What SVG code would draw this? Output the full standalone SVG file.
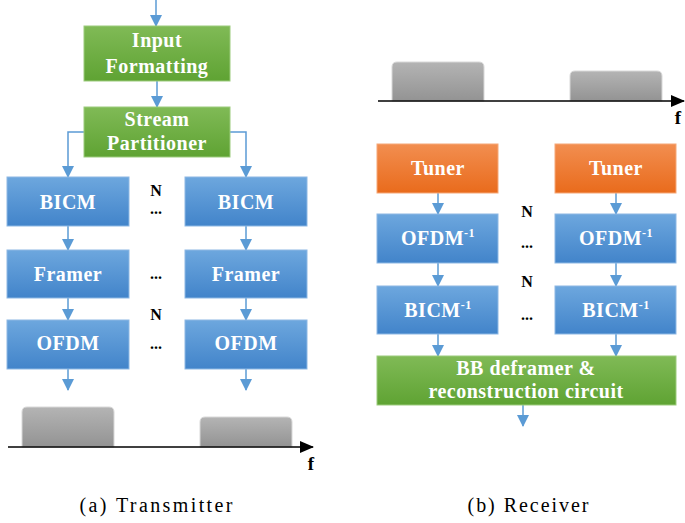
<svg xmlns="http://www.w3.org/2000/svg" width="685" height="523" viewBox="0 0 685 523">
<defs>
<linearGradient id="gBlue" x1="0" y1="0" x2="0" y2="1"><stop offset="0" stop-color="#6da7de"/><stop offset="1" stop-color="#4284ca"/></linearGradient>
<linearGradient id="gGreen" x1="0" y1="0" x2="0" y2="1"><stop offset="0" stop-color="#80ba56"/><stop offset="1" stop-color="#5fa333"/></linearGradient>
<linearGradient id="gOrange" x1="0" y1="0" x2="0" y2="1"><stop offset="0" stop-color="#f28e50"/><stop offset="1" stop-color="#e96b1c"/></linearGradient>
<linearGradient id="gGray" x1="0" y1="0" x2="0" y2="1"><stop offset="0" stop-color="#b4b4b4"/><stop offset="1" stop-color="#939393"/></linearGradient>
<marker id="ah" markerWidth="12" markerHeight="12" refX="11" refY="6" orient="auto" markerUnits="userSpaceOnUse"><path d="M0,0 L12,6 L0,12 Z" fill="#5b9bd5"/></marker>
<marker id="ak" markerWidth="14" markerHeight="12" refX="13" refY="6" orient="auto" markerUnits="userSpaceOnUse"><path d="M0,0 L14,6 L0,12 Z" fill="#000"/></marker>
</defs>
<style>
.blue{fill:url(#gBlue);stroke:#8db8e4;stroke-width:1}
.green{fill:url(#gGreen);stroke:#9ccb7c;stroke-width:1}
.orange{fill:url(#gOrange);stroke:#f5a878;stroke-width:1}
.gray{fill:url(#gGray);stroke:#d8d8d8;stroke-width:1}
.c{fill:none;stroke:#5b9bd5;stroke-width:1.5;marker-end:url(#ah)}
.ax{fill:none;stroke:#000;stroke-width:1.5;marker-end:url(#ak)}
</style>

<g id="connectors">
<path class="c" d="M156,0 V26"/>
<path class="c" d="M157,81 V107"/>
<path class="c" d="M84,132 H68 V177"/>
<path class="c" d="M230,132 H246 V177"/>
<path class="c" d="M68,226 V250"/>
<path class="c" d="M246,226 V250"/>
<path class="c" d="M68,298 V320"/>
<path class="c" d="M246,298 V320"/>
<path class="c" d="M68,369 V390"/>
<path class="c" d="M246,369 V390"/>
<path class="c" d="M438,193 V214"/>
<path class="c" d="M616,193 V214"/>
<path class="c" d="M438,263 V286"/>
<path class="c" d="M616,263 V286"/>
<path class="c" d="M438,334 V356"/>
<path class="c" d="M616,334 V356"/>
<path class="c" d="M523,405 V426"/>
</g>

<g id="tx-spectrum">
<path class="gray" d="M22,447 V412 Q22,407 27,407 H109 Q114,407 114,412 V447 Z"/>
<path class="gray" d="M200,447 V422 Q200,417 205,417 H287 Q292,417 292,422 V447 Z"/>
<path class="ax" d="M8,447 H313"/>
<text x="311" y="470" style="font-family:'Liberation Serif',serif;font-weight:bold;font-size:19px;fill:#000;text-anchor:middle">f</text>
</g>

<g id="rx-spectrum">
<path class="gray" d="M392,101 V67 Q392,62 397,62 H479 Q484,62 484,67 V101 Z"/>
<path class="gray" d="M570,101 V76 Q570,71 575,71 H657 Q662,71 662,76 V101 Z"/>
<path class="ax" d="M378,101 H684"/>
<text x="678" y="124" style="font-family:'Liberation Serif',serif;font-weight:bold;font-size:19px;fill:#000;text-anchor:middle">f</text>
</g>

<g id="input-formatting"><rect class="green" x="84" y="26" width="146" height="55"/>
<text x="157" y="47" style="font-family:'Liberation Serif',serif;font-weight:bold;font-size:20px;letter-spacing:0.5px;fill:#fff;text-anchor:middle">Input</text>
<text x="157" y="73" style="font-family:'Liberation Serif',serif;font-weight:bold;font-size:20px;letter-spacing:0.5px;fill:#fff;text-anchor:middle">Formatting</text></g>
<g id="stream-partitioner"><rect class="green" x="84" y="107" width="146" height="50"/>
<text x="157" y="126" style="font-family:'Liberation Serif',serif;font-weight:bold;font-size:20px;letter-spacing:0.5px;fill:#fff;text-anchor:middle">Stream</text>
<text x="157" y="150" style="font-family:'Liberation Serif',serif;font-weight:bold;font-size:20px;letter-spacing:0.5px;fill:#fff;text-anchor:middle">Partitioner</text></g>

<g id="bicm-1"><rect class="blue" x="7" y="177" width="122" height="49"/><text x="68" y="209" style="font-family:'Liberation Serif',serif;font-weight:bold;font-size:20px;letter-spacing:0.5px;fill:#fff;text-anchor:middle">BICM</text></g>
<g id="bicm-n"><rect class="blue" x="185" y="177" width="122" height="49"/><text x="246" y="209" style="font-family:'Liberation Serif',serif;font-weight:bold;font-size:20px;letter-spacing:0.5px;fill:#fff;text-anchor:middle">BICM</text></g>
<g id="framer-1"><rect class="blue" x="7" y="250" width="122" height="48"/><text x="68" y="281" style="font-family:'Liberation Serif',serif;font-weight:bold;font-size:20px;letter-spacing:0.5px;fill:#fff;text-anchor:middle">Framer</text></g>
<g id="framer-n"><rect class="blue" x="185" y="250" width="122" height="48"/><text x="246" y="281" style="font-family:'Liberation Serif',serif;font-weight:bold;font-size:20px;letter-spacing:0.5px;fill:#fff;text-anchor:middle">Framer</text></g>
<g id="ofdm-1"><rect class="blue" x="7" y="320" width="122" height="49"/><text x="68" y="350" style="font-family:'Liberation Serif',serif;font-weight:bold;font-size:20px;letter-spacing:0.5px;fill:#fff;text-anchor:middle">OFDM</text></g>
<g id="ofdm-n"><rect class="blue" x="185" y="320" width="122" height="49"/><text x="246" y="350" style="font-family:'Liberation Serif',serif;font-weight:bold;font-size:20px;letter-spacing:0.5px;fill:#fff;text-anchor:middle">OFDM</text></g>

<g id="tx-labels">
<text x="156" y="196" style="font-family:'Liberation Serif',serif;font-weight:bold;font-size:16px;fill:#000;text-anchor:middle">N</text>
<text x="156" y="214" style="font-family:'Liberation Serif',serif;font-weight:bold;font-size:16px;fill:#000;text-anchor:middle">...</text>
<text x="156" y="279" style="font-family:'Liberation Serif',serif;font-weight:bold;font-size:16px;fill:#000;text-anchor:middle">...</text>
<text x="156" y="320" style="font-family:'Liberation Serif',serif;font-weight:bold;font-size:16px;fill:#000;text-anchor:middle">N</text>
<text x="156" y="349" style="font-family:'Liberation Serif',serif;font-weight:bold;font-size:16px;fill:#000;text-anchor:middle">...</text>
</g>

<g id="tuner-1"><rect class="orange" x="377" y="144" width="121" height="49"/><text x="438" y="175" style="font-family:'Liberation Serif',serif;font-weight:bold;font-size:20px;letter-spacing:0.5px;fill:#fff;text-anchor:middle">Tuner</text></g>
<g id="tuner-n"><rect class="orange" x="555" y="144" width="121" height="49"/><text x="616" y="175" style="font-family:'Liberation Serif',serif;font-weight:bold;font-size:20px;letter-spacing:0.5px;fill:#fff;text-anchor:middle">Tuner</text></g>
<g id="ofdm-inv-1"><rect class="blue" x="377" y="214" width="121" height="49"/><text x="438" y="245" style="font-family:'Liberation Serif',serif;font-weight:bold;font-size:20px;letter-spacing:0.5px;fill:#fff;text-anchor:middle">OFDM<tspan font-size="12" dy="-8">-1</tspan></text></g>
<g id="ofdm-inv-n"><rect class="blue" x="555" y="214" width="121" height="49"/><text x="616" y="245" style="font-family:'Liberation Serif',serif;font-weight:bold;font-size:20px;letter-spacing:0.5px;fill:#fff;text-anchor:middle">OFDM<tspan font-size="12" dy="-8">-1</tspan></text></g>
<g id="bicm-inv-1"><rect class="blue" x="377" y="286" width="121" height="48"/><text x="438" y="317" style="font-family:'Liberation Serif',serif;font-weight:bold;font-size:20px;letter-spacing:0.5px;fill:#fff;text-anchor:middle">BICM<tspan font-size="12" dy="-8">-1</tspan></text></g>
<g id="bicm-inv-n"><rect class="blue" x="555" y="286" width="121" height="48"/><text x="616" y="317" style="font-family:'Liberation Serif',serif;font-weight:bold;font-size:20px;letter-spacing:0.5px;fill:#fff;text-anchor:middle">BICM<tspan font-size="12" dy="-8">-1</tspan></text></g>
<g id="bb-deframer"><rect class="green" x="377" y="356" width="299" height="49"/>
<text x="526" y="375" style="font-family:'Liberation Serif',serif;font-weight:bold;font-size:20px;letter-spacing:0.5px;fill:#fff;text-anchor:middle">BB deframer &amp;</text>
<text x="526" y="398" style="font-family:'Liberation Serif',serif;font-weight:bold;font-size:20px;letter-spacing:0.5px;fill:#fff;text-anchor:middle">reconstruction circuit</text></g>

<g id="rx-labels">
<text x="527" y="217" style="font-family:'Liberation Serif',serif;font-weight:bold;font-size:16px;fill:#000;text-anchor:middle">N</text>
<text x="527" y="248" style="font-family:'Liberation Serif',serif;font-weight:bold;font-size:16px;fill:#000;text-anchor:middle">...</text>
<text x="527" y="287" style="font-family:'Liberation Serif',serif;font-weight:bold;font-size:16px;fill:#000;text-anchor:middle">N</text>
<text x="527" y="320" style="font-family:'Liberation Serif',serif;font-weight:bold;font-size:16px;fill:#000;text-anchor:middle">...</text>
</g>

<g id="captions">
<text x="156" y="512" textLength="153" lengthAdjust="spacing" style="font-family:'Liberation Serif',serif;font-size:20px;fill:#000;text-anchor:middle">(a)  Transmitter</text>
<text x="528" y="512" textLength="121" lengthAdjust="spacing" style="font-family:'Liberation Serif',serif;font-size:20px;fill:#000;text-anchor:middle">(b)  Receiver</text>
</g>
</svg>
